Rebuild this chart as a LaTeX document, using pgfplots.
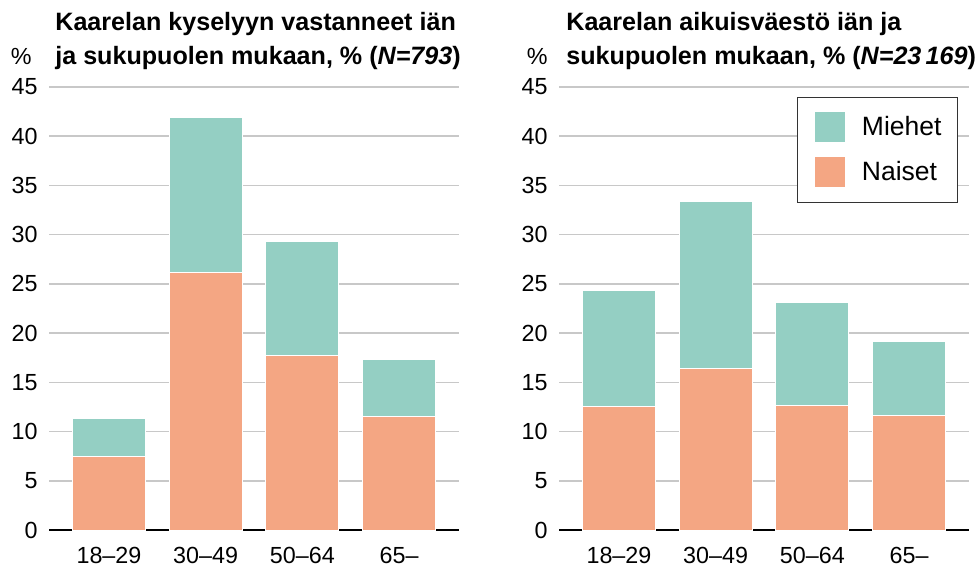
\documentclass[border=0pt]{standalone}
\usepackage{fontspec}
\setmainfont{Liberation Sans}
\usepackage{pgfplots}
\pgfplotsset{compat=1.18}

\definecolor{miehet}{RGB}{148,207,195}
\definecolor{naiset}{RGB}{244,166,131}
\definecolor{gridgray}{RGB}{200,200,200}

\tikzset{ttl/.style={font=\fontsize{12.6}{15}\selectfont\bfseries, anchor=base west, inner sep=0pt}}

\pgfplotsset{
  sq legend/.style={legend image code/.code={\fill[##1] (0bp,-7.75bp) rectangle (15.5bp,7.75bp);}},
  kaarela/.style={
    ybar stacked, bar width=36.5bp,
    scale only axis, width=205bp, height=221.5bp,
    xmin=-0.62, xmax=3.62, ymin=0, ymax=45,
    xtick={0,1,2,3}, xticklabels={18–29,30–49,50–64,65–},
    ytick={0,5,...,45},
    axis line style={draw=none},
    major tick length=0pt,
    ymajorgrids, grid style={gridgray, line width=0.75bp},
    tick label style={font=\fontsize{11.7}{13}\selectfont},
    /pgf/number format/assume math mode=true,
    yticklabel style={inner xsep=0pt, xshift=-5.5bp},
    xticklabel style={inner ysep=0pt, yshift=-8.5bp},
    clip=false,
  },
}

\begin{document}
\begin{tikzpicture}
\useasboundingbox (-24.5bp,-19bp) rectangle (463bp,265bp);

% left: respondents
\begin{axis}[kaarela]
\addplot[fill=naiset, draw=white, line width=0.5bp] coordinates {(0,7.5) (1,26.2) (2,17.7) (3,11.5)};
\addplot[fill=miehet, draw=white, line width=0.5bp] coordinates {(0,3.8) (1,15.7) (2,11.6) (3,5.8)};
\draw[black, line width=1bp] (rel axis cs:0,0) -- (rel axis cs:1,0);
\node[ttl] at ([shift={(3bp,28bp)}]rel axis cs:0,1) {Kaarelan kyselyyn vastanneet iän};
\node[ttl] at ([shift={(3bp,11bp)}]rel axis cs:0,1) {ja sukupuolen mukaan, \% (\textit{N=793})};
\node[font=\fontsize{11.7}{13}\selectfont, anchor=base east, inner sep=0pt] at ([shift={(-8.5bp,11bp)}]rel axis cs:0,1) {\%};
\end{axis}

% right: adult population
\begin{axis}[kaarela, at={(255bp,0)},
  legend style={at={(1,1)}, anchor=north east, xshift=-5.5bp, yshift=-5bp,
    draw=black!80, line width=0.5bp, font=\fontsize{13.3}{15}\selectfont,
    inner xsep=8bp, inner ysep=7bp, row sep=6.5bp, column sep=8bp,
    nodes={inner sep=0pt}},
  legend cell align=left, reverse legend]
\addplot[fill=naiset, draw=white, line width=0.5bp, sq legend] coordinates {(0,12.5) (1,16.4) (2,12.6) (3,11.6)};
\addlegendentry{Naiset}
\addplot[fill=miehet, draw=white, line width=0.5bp, sq legend] coordinates {(0,11.8) (1,17.0) (2,10.5) (3,7.5)};
\addlegendentry{Miehet}
\draw[black, line width=1bp] (rel axis cs:0,0) -- (rel axis cs:1,0);
\node[ttl] at ([shift={(3.5bp,28bp)}]rel axis cs:0,1) {Kaarelan aikuisväestö iän ja};
\node[ttl] at ([shift={(3.5bp,11bp)}]rel axis cs:0,1) {sukupuolen mukaan, \% (\textit{N=23\,169})};
\node[font=\fontsize{11.7}{13}\selectfont, anchor=base east, inner sep=0pt] at ([shift={(-5.5bp,11bp)}]rel axis cs:0,1) {\%};
\end{axis}
\end{tikzpicture}
\end{document}
